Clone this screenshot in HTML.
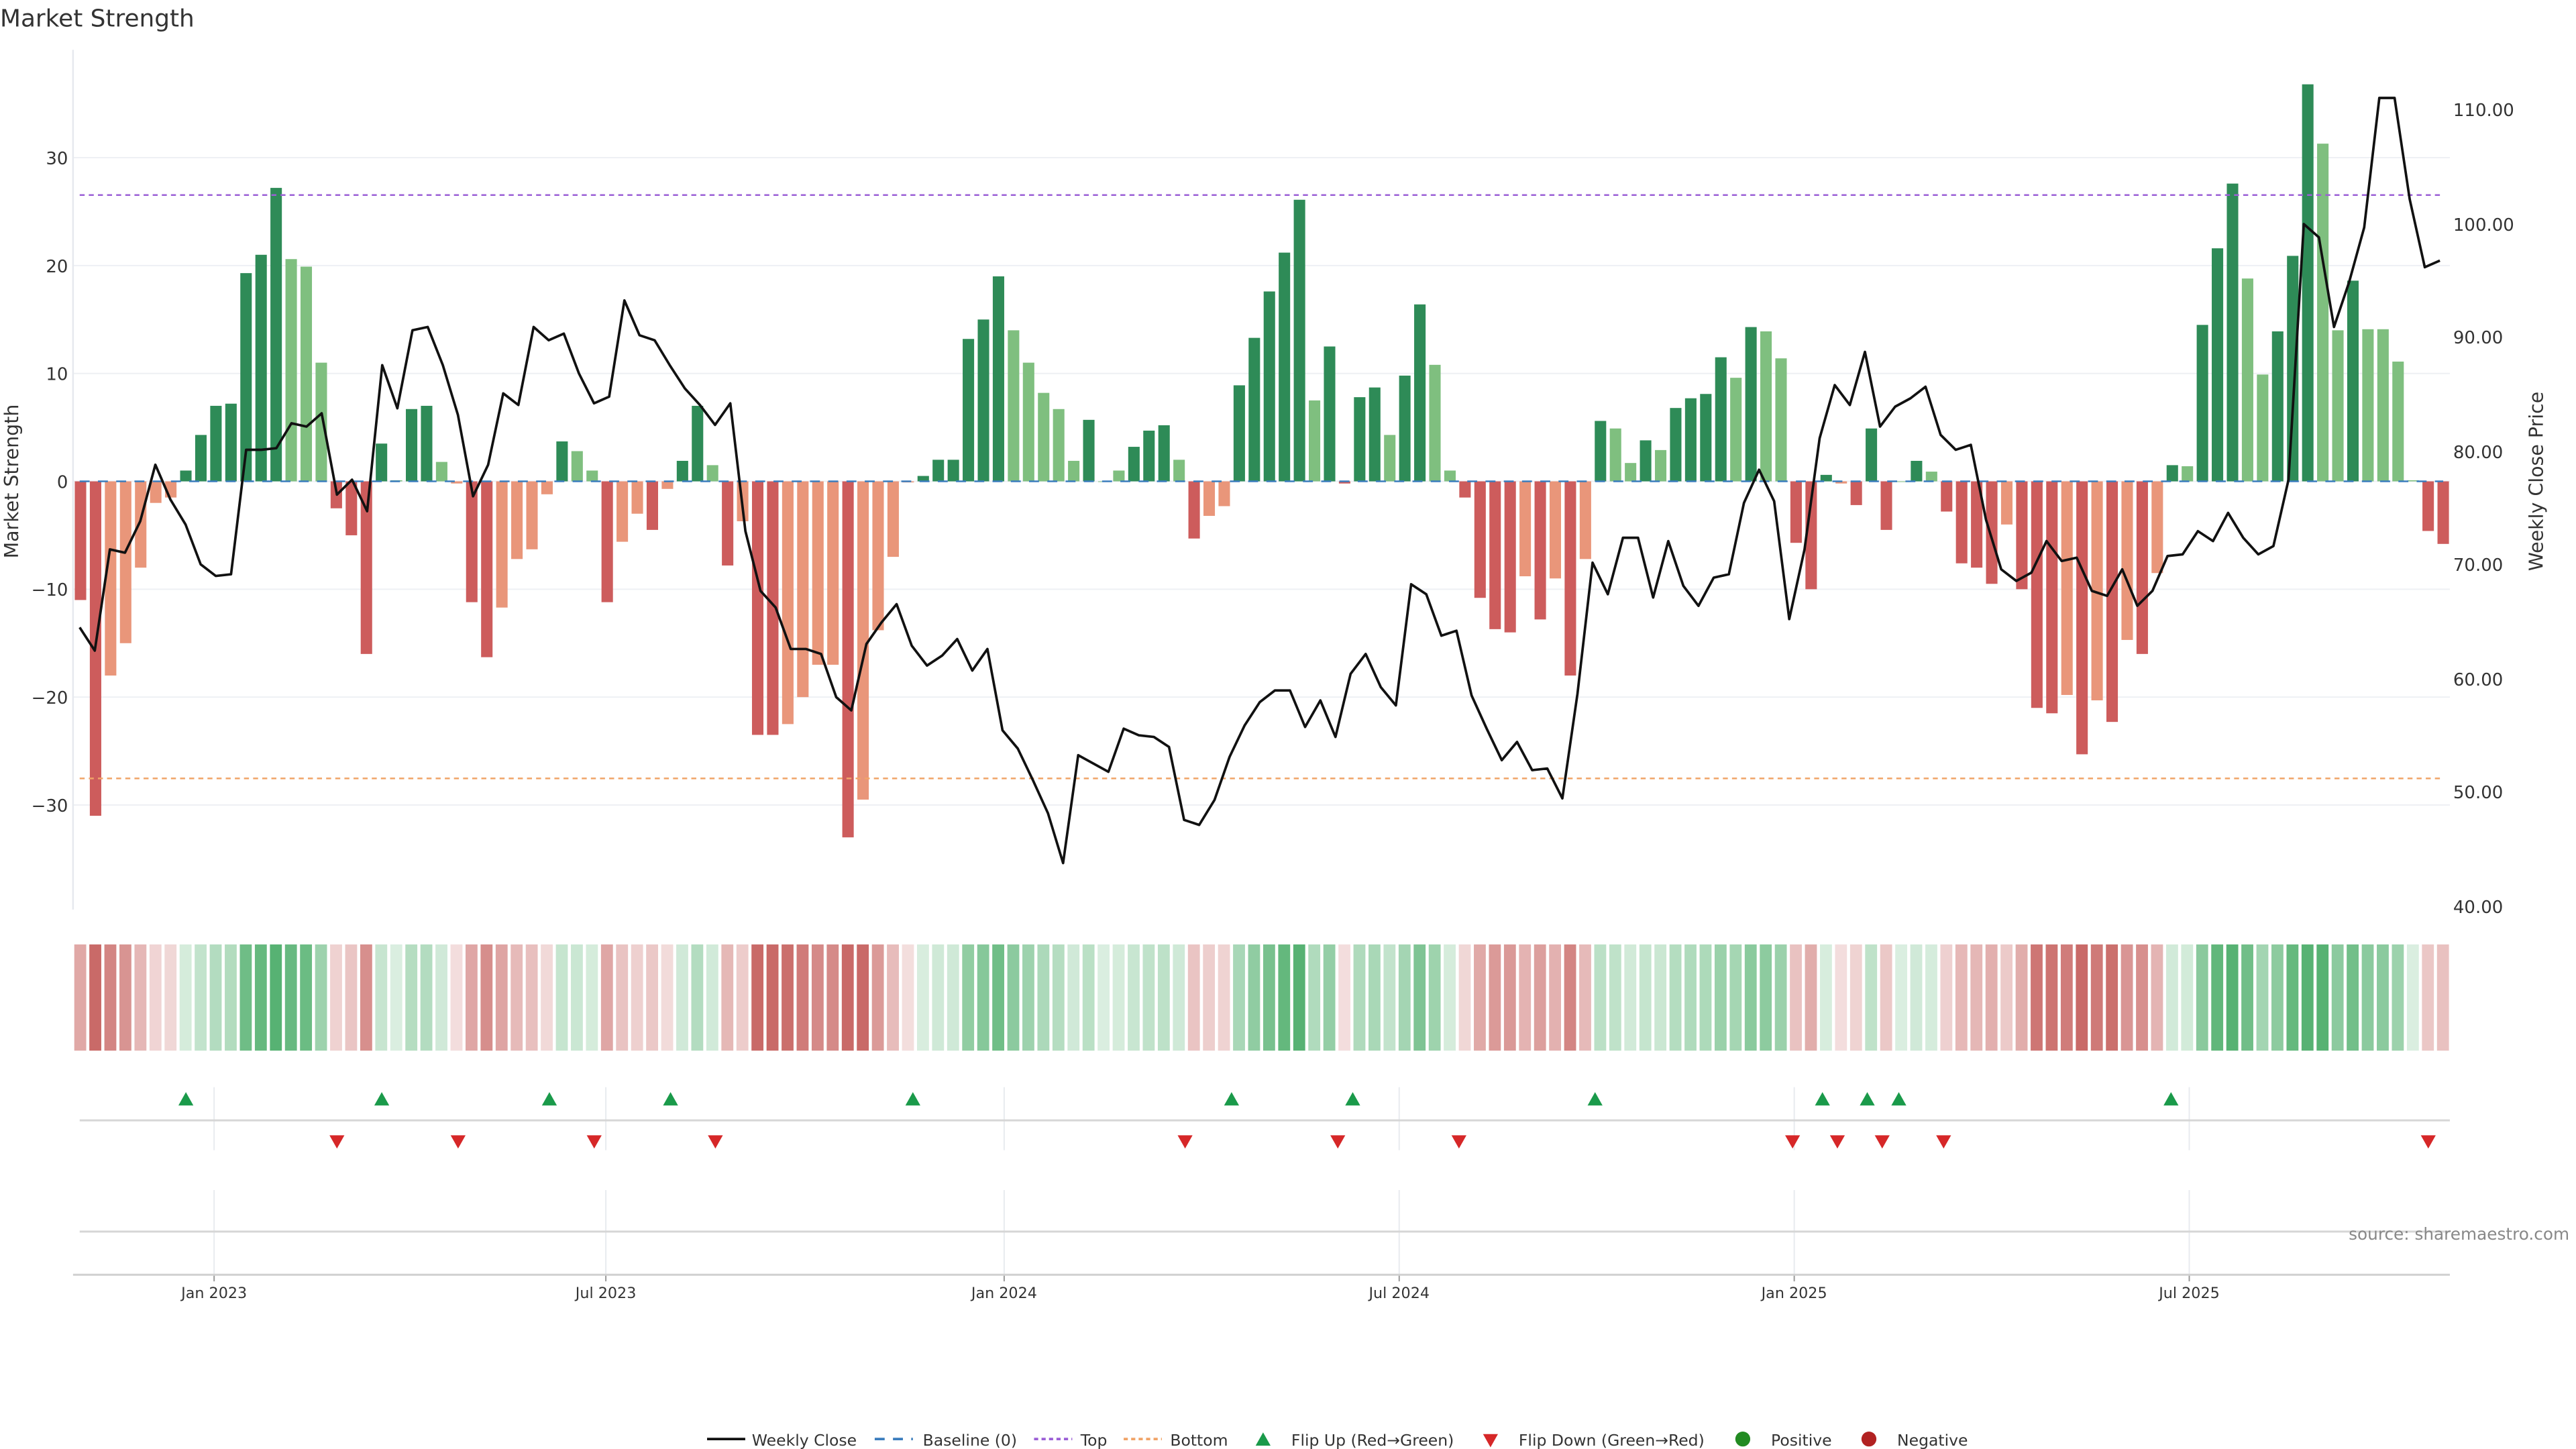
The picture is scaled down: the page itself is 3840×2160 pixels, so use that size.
<!DOCTYPE html>
<html><head><meta charset="utf-8"><style>
html,body{margin:0;padding:0;background:#fff;width:3840px;height:2160px;overflow:hidden}
svg{display:block}
text{font-family:"DejaVu Sans","Liberation Sans",sans-serif}
</style></head><body>
<svg id="s" width="3840" height="2160" viewBox="0 0 1552 873" xmlns="http://www.w3.org/2000/svg">
<rect width="1552" height="873" fill="#fff"/>
<text x="0" y="16" font-size="14.5" fill="#333">Market Strength</text>
<g id="grid"></g>
<line x1="44" y1="30" x2="44" y2="548" stroke="#e6e9ee" stroke-width="1"/>
<g id="bars"></g>
<line x1="48" y1="290" x2="1472" y2="290" stroke="#3b7dbd" stroke-width="1" stroke-dasharray="6,5"/>
<line x1="48" y1="117.5" x2="1472" y2="117.5" stroke="#9b5fd6" stroke-width="1" stroke-dasharray="3,2.5"/>
<line x1="48" y1="469" x2="1472" y2="469" stroke="#f0a468" stroke-width="1" stroke-dasharray="3,2.5"/>
<polyline id="line" fill="none" stroke="#111" stroke-width="1.5" stroke-linejoin="round"/>
<g id="heat"></g>
<g id="low"></g>
<g font-size="10.5" fill="#333" text-anchor="end">
<text x="41" y="99">30</text><text x="41" y="164">20</text><text x="41" y="229">10</text><text x="41" y="294">0</text>
<text x="41" y="359">−10</text><text x="41" y="424">−20</text><text x="41" y="489">−30</text>
</g>
<g font-size="10.5" fill="#333">
<text x="1478" y="70">110.00</text><text x="1478" y="139">100.00</text><text x="1478" y="207">90.00</text><text x="1478" y="276">80.00</text>
<text x="1478" y="344">70.00</text><text x="1478" y="413">60.00</text><text x="1478" y="481">50.00</text><text x="1478" y="550">40.00</text>
</g>
<text transform="translate(11,290) rotate(-90)" font-size="11.5" fill="#333" text-anchor="middle">Market Strength</text>
<text transform="translate(1532,290) rotate(-90)" font-size="11.5" fill="#333" text-anchor="middle">Weekly Close Price</text>
<text x="1548" y="747" font-size="10" fill="#888" text-anchor="end">source: sharemaestro.com</text>
<g font-size="9.5" fill="#333">
<line x1="426" y1="867" x2="449" y2="867" stroke="#111" stroke-width="1.5"/><text x="453" y="871">Weekly Close</text>
<line x1="527" y1="867" x2="550" y2="867" stroke="#3b7dbd" stroke-width="1.5" stroke-dasharray="6,5"/><text x="556" y="871">Baseline (0)</text>
<line x1="623" y1="867" x2="646" y2="867" stroke="#9b5fd6" stroke-width="1.5" stroke-dasharray="2.5,2"/><text x="651" y="871">Top</text>
<line x1="677" y1="867" x2="700" y2="867" stroke="#f0a468" stroke-width="1.5" stroke-dasharray="2.5,2"/><text x="705" y="871">Bottom</text>
<polygon points="761,863 765.5,871 756.5,871" fill="#1a9a4a"/><text x="778" y="871">Flip Up (Red→Green)</text>
<polygon points="893.5,864 902.5,864 898,872" fill="#d62728"/><text x="915" y="871">Flip Down (Green→Red)</text>
<circle cx="1050" cy="867" r="4.5" fill="#228b22"/><text x="1067" y="871">Positive</text>
<circle cx="1126" cy="867" r="4.5" fill="#b22222"/><text x="1143" y="871">Negative</text>
</g>
</svg>
<script>
var NS="http://www.w3.org/2000/svg";
function el(p,t,a){var e=document.createElementNS(NS,t);for(var k in a)e.setAttribute(k,a[k]);p.appendChild(e);return e;}
var V=[[-11,'R'],[-31,'R'],[-18,'O'],[-15,'O'],[-8,'O'],[-2,'O'],[-1.5,'O'],[1,'D'],[4.3,'D'],[7,'D'],[7.2,'D'],[19.3,'D'],[21,'D'],[27.2,'D'],[20.6,'L'],[19.9,'L'],[11,'L'],[-2.5,'R'],[-5,'R'],[-16,'R'],[3.5,'D'],[0.1,'L'],[6.7,'D'],[7,'D'],[1.8,'L'],[-0.2,'O'],
[-11.2,'R'],[-16.3,'R'],[-11.7,'O'],[-7.2,'O'],[-6.3,'O'],[-1.2,'O'],[3.7,'D'],[2.8,'L'],[1,'L'],[-11.2,'R'],[-5.6,'O'],[-3,'O'],[-4.5,'R'],[-0.7,'O'],[1.9,'D'],[7,'D'],[1.5,'L'],[-7.8,'R'],[-3.7,'O'],[-23.5,'R'],[-23.5,'R'],[-22.5,'O'],[-20,'O'],[-17,'O'],[-17,'O'],[-33,'R'],[-29.5,'O'],[-13.8,'O'],[-7,'O'],[-0.1,'O'],[0.5,'D'],[2,'D'],[2,'D'],[13.2,'D'],[15,'D'],[19,'D'],[14,'L'],[11,'L'],[8.2,'L'],[6.7,'L'],[1.9,'L'],[5.7,'D'],[0,'L'],[1,'L'],[3.2,'D'],[4.7,'D'],[5.2,'D'],[2,'L'],[-5.3,'R'],[-3.2,'O'],[-2.3,'O'],[8.9,'D'],[13.3,'D'],[17.6,'D'],[21.2,'D'],[26.1,'D'],[7.5,'L'],[12.5,'D'],[-0.2,'R'],[7.8,'D'],[8.7,'D'],[4.3,'L'],[9.8,'D'],[16.4,'D'],[10.8,'L'],[1,'L'],[-1.5,'R'],[-10.8,'R'],[-13.7,'R'],[-14,'R'],[-8.8,'O'],[-12.8,'R'],[-9,'O'],[-18,'R'],[-7.2,'O'],[5.6,'D'],[4.9,'L'],[1.7,'L'],[3.8,'D'],[2.9,'L'],[6.8,'D'],[7.7,'D'],[8.1,'D'],[11.5,'D'],[9.6,'L'],[14.3,'D'],[13.9,'L'],[11.4,'L'],[-5.7,'R'],[-10,'R'],[0.6,'D'],[-0.2,'O'],[-2.2,'R'],[4.9,'D'],[-4.5,'R'],[0,'L'],[1.9,'D'],[0.9,'L'],[-2.8,'R'],[-7.6,'R'],[-8,'R'],[-9.5,'R'],[-4,'O'],[-10,'R'],[-21,'R'],[-21.5,'R'],[-19.8,'O'],[-25.3,'R'],[-20.3,'O'],[-22.3,'R'],[-14.7,'O'],[-16,'R'],[-8.5,'O'],[1.5,'D'],[1.4,'L'],[14.5,'D'],[21.6,'D'],[27.6,'D'],[18.8,'L'],[9.9,'L'],[13.9,'D'],[20.9,'D'],[36.8,'D'],[31.3,'L'],[14,'L'],[18.6,'D'],[14.1,'L'],[14.1,'L'],[11.1,'L'],[0.1,'L'],[-4.6,'R'],[-5.8,'R']];
var C={D:'#2e8b57',L:'#7fbf7f',R:'#cd5c5c',O:'#e9967a'};
var n=V.length,x0=48.5,x1=1472,st=(x1-x0)/(n-1),bw=6.9;
var g=document.getElementById('grid');
[30,20,10,0,-10,-20,-30].forEach(function(v){var y=290-v*6.5;el(g,'line',{x1:44,x2:1476,y1:y,y2:y,stroke:'#eef0f4','stroke-width':0.8});});
var b=document.getElementById('bars'),h=document.getElementById('heat');
for(var i=0;i<n;i++){var v=V[i][0],x=x0+i*st;var y=290-v*6.5;
 el(b,'rect',{x:x-bw/2,y:Math.min(y,290),width:bw,height:Math.max(Math.abs(v*6.5),0.4),fill:C[V[i][1]]});
 var a=Math.min(1,0.22+Math.abs(v)/30);var pos=v>=0;
 el(h,'rect',{x:x-bw/2-0.3,y:569,width:bw+0.3,height:64,fill:pos?'#3aa55a':'#c0504d','fill-opacity':a*0.85});
}
var P=[378,392,331,333,314,280,301,316,340,347,346,271,271,270,255,257,249,298,289,308,220,246,199,197,220,250,299,280,237,244,197,205,201,225,243,239,181,202,205,220,234,244,256,243,320,356,366,391,391,394,420,428,388,375,364,389,401,395,385,404,391,440,451,470,490,520,455,460,465,439,443,444,450,494,497,482,456,437,423,416,416,438,422,444,406,394,414,425,352,358,383,380,419,439,458,447,464,463,481,418,339,358,324,324,360,326,353,365,348,346,303,283,302,373,331,264,232,244,212,257,245,240,233,262,271,268,313,343,350,345,326,338,336,356,359,343,365,356,335,334,320,326,309,324,334,329,289,135,143,197,170,137,59,59,120,161,157];
var pts=[],ps=(1470-48)/(P.length-1);for(var j=0;j<P.length;j++)pts.push((48+j*ps).toFixed(1)+','+P[j]);
document.getElementById('line').setAttribute('points',pts.join(' '));
var L=document.getElementById('low');
[[129,'Jan 2023'],[365,'Jul 2023'],[605,'Jan 2024'],[843,'Jul 2024'],[1081,'Jan 2025'],[1319,'Jul 2025']].forEach(function(t){
 el(L,'line',{x1:t[0],x2:t[0],y1:655,y2:693,stroke:'#e8ebef','stroke-width':0.8});
 el(L,'line',{x1:t[0],x2:t[0],y1:717,y2:768,stroke:'#e8ebef','stroke-width':0.8});
 el(L,'line',{x1:t[0],x2:t[0],y1:768,y2:772,stroke:'#999','stroke-width':0.8});
 var tx=el(L,'text',{x:t[0],y:782,'font-size':9,fill:'#333','text-anchor':'middle'});tx.textContent=t[1];});
el(L,'line',{x1:48,x2:1476,y1:675,y2:675,stroke:'#d6d6d6','stroke-width':1.2});
el(L,'line',{x1:48,x2:1476,y1:742,y2:742,stroke:'#d6d6d6','stroke-width':1.2});
el(L,'line',{x1:44,x2:1476,y1:768,y2:768,stroke:'#d0d0d0','stroke-width':1.2});
[112,230,331,404,550,742,815,961,1098,1125,1144,1308].forEach(function(x){el(L,'polygon',{points:(x)+',658 '+(x+4.5)+',666 '+(x-4.5)+',666',fill:'#1a9a4a'});});
[203,276,358,431,714,806,879,1080,1107,1134,1171,1463].forEach(function(x){el(L,'polygon',{points:(x-4.5)+',684 '+(x+4.5)+',684 '+x+',692',fill:'#d62728'});});
</script>
</body></html>
